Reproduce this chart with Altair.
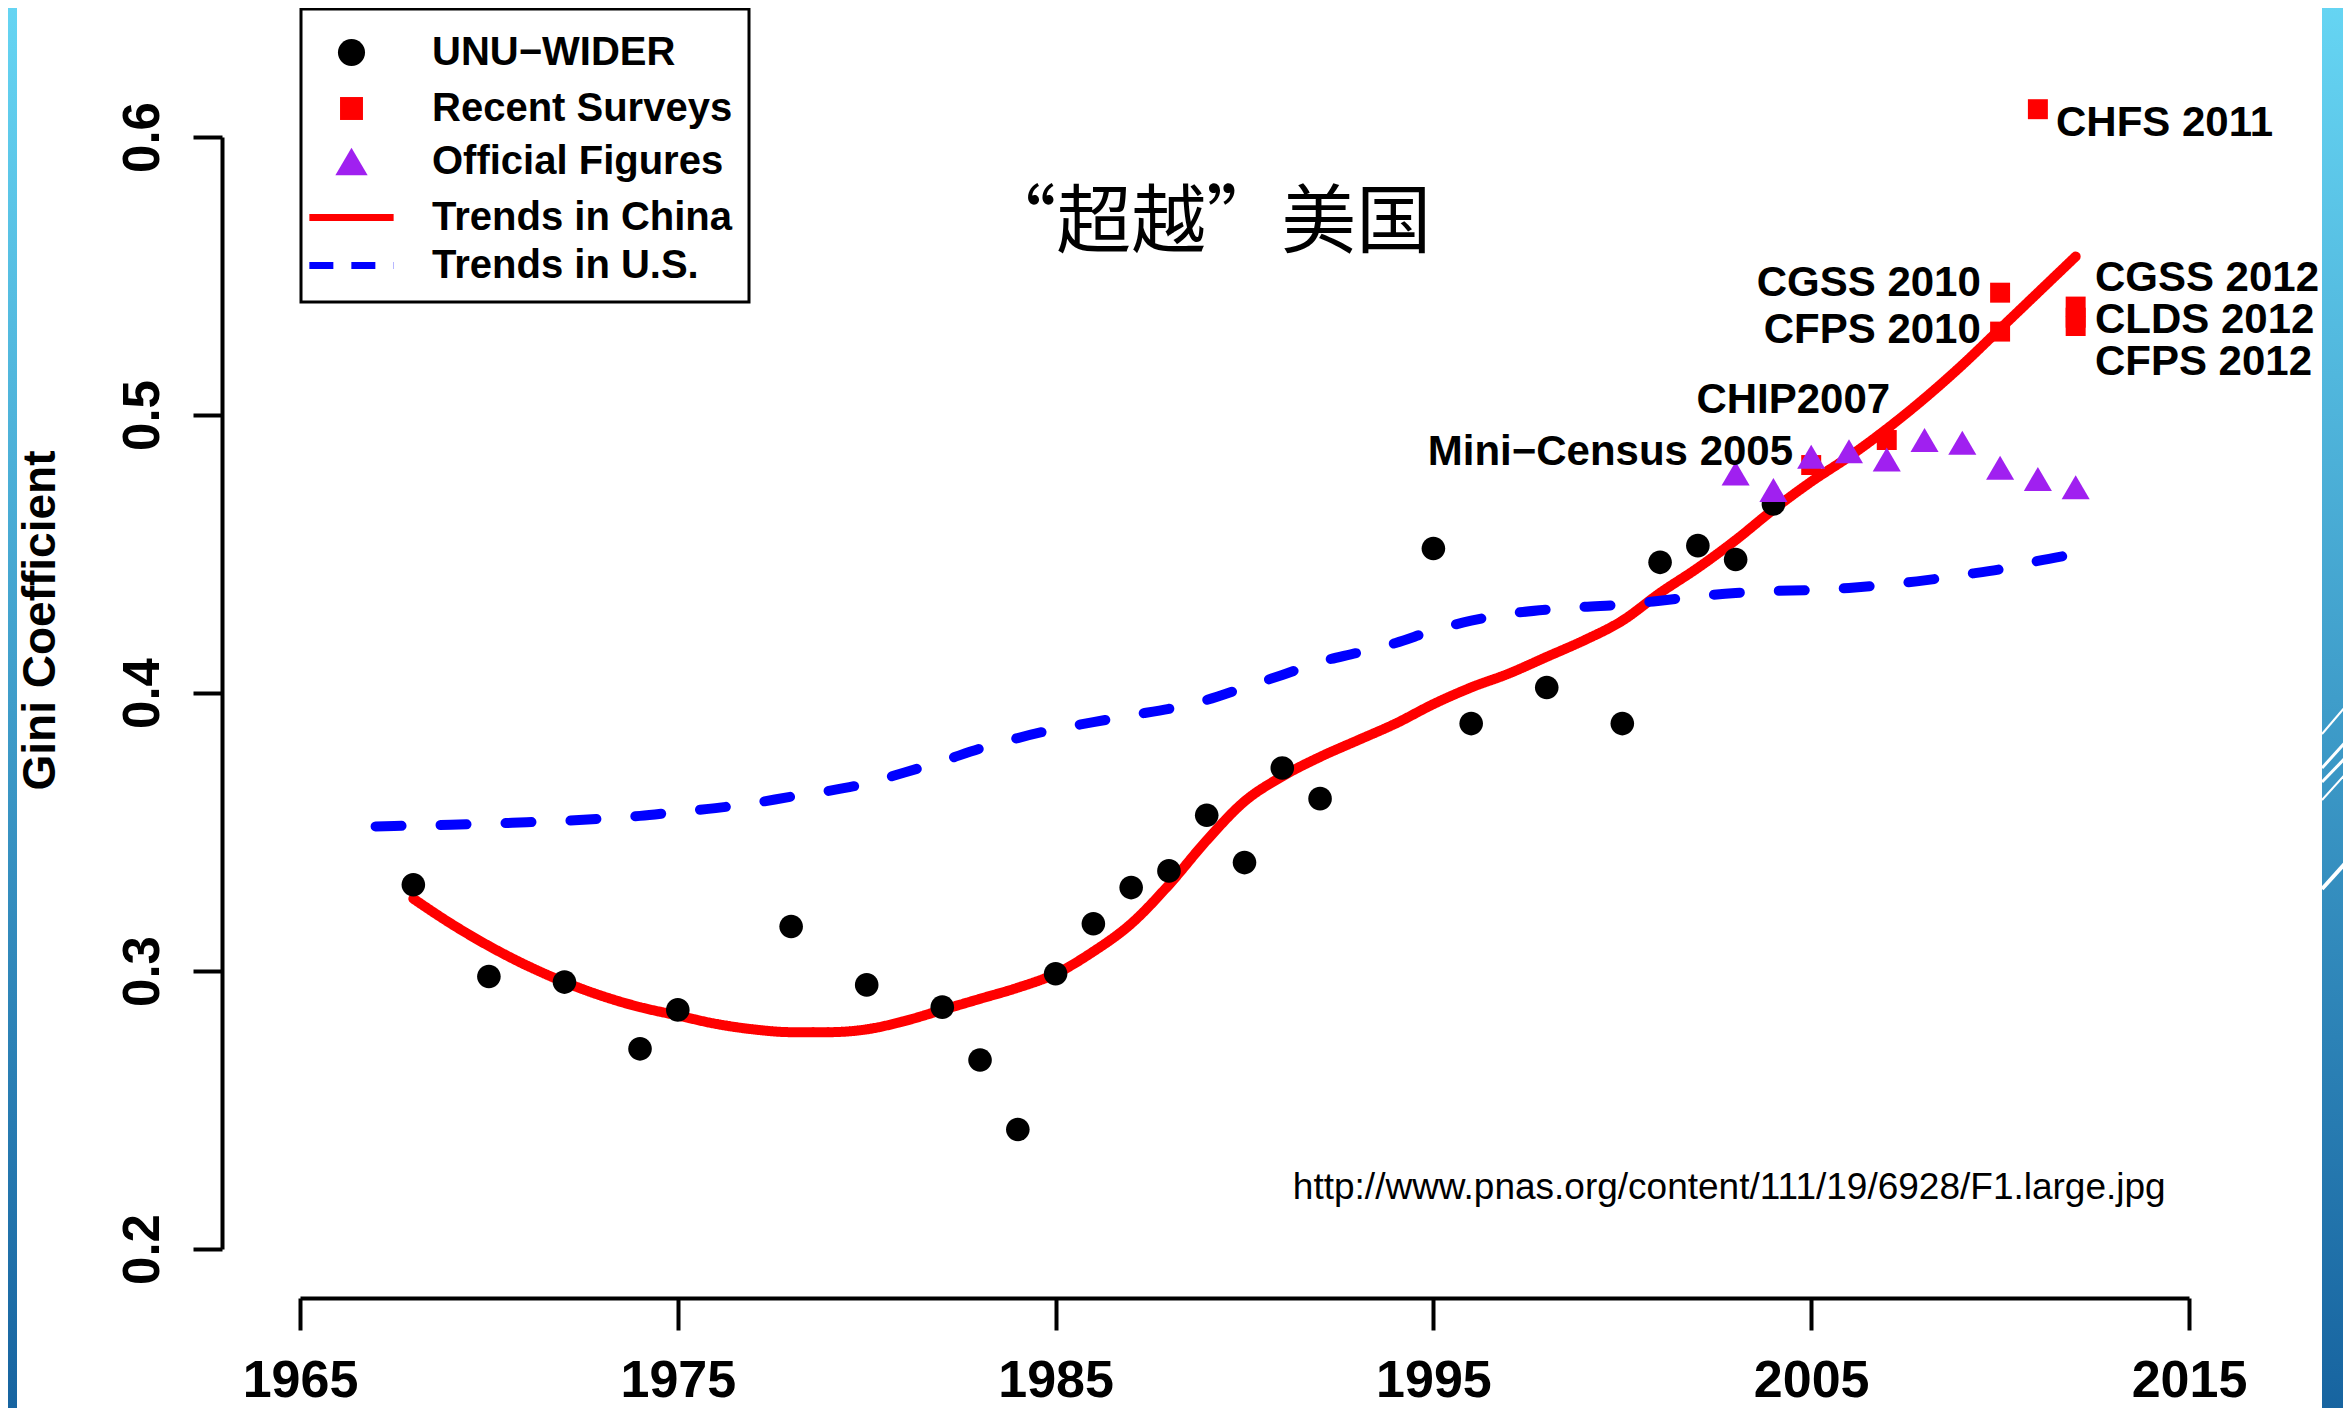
import altair as alt
import pandas as pd

# ---------------- data ----------------
# UNU-WIDER estimates (black dots)
unu_years = [1968, 1970, 1972, 1974, 1975, 1978, 1980, 1982, 1983, 1984, 1985, 1986, 1987,
             1988, 1989, 1990, 1991, 1992, 1995, 1996, 1998, 2000, 2001, 2002, 2003, 2004]
unu_gini = [0.331, 0.298, 0.296, 0.272, 0.286, 0.316, 0.295, 0.287, 0.268, 0.243, 0.299, 0.317, 0.330,
            0.336, 0.356, 0.339, 0.373, 0.362, 0.452, 0.389, 0.402, 0.389, 0.447, 0.453, 0.448, 0.468]

# Recent surveys (red squares)
survey_names = ["Mini−Census 2005", "CHIP2007", "CGSS 2010", "CFPS 2010", "CHFS 2011",
                "CGSS 2012", "CLDS 2012", "CFPS 2012"]
survey_years = [2005, 2007, 2010, 2010, 2011, 2012, 2012, 2012]
survey_gini = [0.482, 0.491, 0.544, 0.530, 0.610, 0.539, 0.535, 0.532]

# Official figures (purple triangles)
official_years = [2003, 2004, 2005, 2006, 2007, 2008, 2009, 2010, 2011, 2012]
official_gini = [0.479, 0.473, 0.485, 0.487, 0.484, 0.491, 0.490, 0.481, 0.477, 0.474]

# Trend in China (red line)
china_years = [1968, 1969, 1970, 1971, 1972, 1973, 1974, 1975, 1976, 1977, 1978, 1979, 1980,
               1981, 1982, 1983, 1984, 1985, 1986, 1987, 1988, 1989, 1990, 1991, 1992, 1993,
               1994, 1995, 1996, 1997, 1998, 1999, 2000, 2001, 2002, 2003, 2004, 2005, 2006,
               2007, 2008, 2009, 2010, 2011, 2012]
china_gini = [0.326, 0.317, 0.309, 0.302, 0.296, 0.291, 0.287, 0.284, 0.281, 0.279, 0.278, 0.278, 0.279,
              0.282, 0.286, 0.290, 0.294, 0.299, 0.307, 0.317, 0.331, 0.347, 0.361, 0.370, 0.377, 0.383,
              0.389, 0.396, 0.402, 0.407, 0.413, 0.419, 0.426, 0.436, 0.445, 0.455, 0.466, 0.476, 0.485,
              0.495, 0.506, 0.518, 0.531, 0.544, 0.557]

# Trend in U.S. (blue dashed line)
us_years = [1967, 1968, 1969, 1970, 1971, 1972, 1973, 1974, 1975, 1976, 1977, 1978, 1979, 1980,
            1981, 1982, 1983, 1984, 1985, 1986, 1987, 1988, 1989, 1990, 1991, 1992, 1993, 1994,
            1995, 1996, 1997, 1998, 1999, 2000, 2001, 2002, 2003, 2004, 2005, 2006, 2007, 2008,
            2009, 2010, 2011, 2012]
us_gini = [0.352, 0.3523, 0.3526, 0.353, 0.3535, 0.354, 0.3548, 0.3558, 0.3572, 0.3586, 0.3604, 0.3627,
           0.3648, 0.3675, 0.3714, 0.3755, 0.380, 0.3838, 0.387, 0.3895, 0.392, 0.3943, 0.3975, 0.402,
           0.4065, 0.4112, 0.4145, 0.418, 0.4225, 0.426, 0.4285, 0.430, 0.431, 0.4318, 0.4332, 0.4348,
           0.436, 0.4367, 0.437, 0.4378, 0.439, 0.4405, 0.4425, 0.4445, 0.4475, 0.450]

series_names = ["UNU−WIDER", "Recent Surveys", "Official Figures", "Trends in China", "Trends in U.S."]
x_ticks = [1965, 1975, 1985, 1995, 2005, 2015]
y_ticks = [0.2, 0.3, 0.4, 0.5, 0.6]

# survey annotations (placed in data coordinates, like R's text())
label_text = ["CHFS 2011", "CGSS 2012", "CLDS 2012", "CFPS 2012",
              "CGSS 2010", "CFPS 2010", "CHIP2007", "Mini−Census 2005"]
label_year = [2011.48, 2012.51, 2012.51, 2012.51, 2009.49, 2009.49, 2007.09, 2004.52]
label_gini = [0.6050, 0.5492, 0.5342, 0.5192, 0.5474, 0.5306, 0.5054, 0.4868]
label_side = ["left", "left", "left", "left", "right", "right", "right", "right"]

title_text = ["“超越”美国"]
title_year = [1983.03]
title_gini = [0.5605]

source_text = ["http://www.pnas.org/content/111/19/6928/F1.large.jpg"]
source_year = [1991.28]
source_gini = [0.218]

# ---------------- tables ----------------
points_df = pd.DataFrame({
    "year": unu_years + survey_years + official_years,
    "gini": unu_gini + survey_gini + official_gini,
    "series": [series_names[0]] * len(unu_years) + [series_names[1]] * len(survey_years)
              + [series_names[2]] * len(official_years),
})
china_df = pd.DataFrame({"year": china_years, "gini": china_gini,
                         "series": [series_names[3]] * len(china_years)})
us_df = pd.DataFrame({"year": us_years, "gini": us_gini,
                      "series": [series_names[4]] * len(us_years)})
labels_df = pd.DataFrame({"year": label_year, "gini": label_gini, "text": label_text, "side": label_side})
title_df = pd.DataFrame({"year": title_year, "gini": title_gini, "text": title_text})
source_df = pd.DataFrame({"year": source_year, "gini": source_gini, "text": source_text})

# ---------------- styling ----------------
FONT = "Liberation Sans"
W, H = 1889, 1112

x_axis = alt.Axis(values=x_ticks, format="d", title=None, grid=False, offset=49,
                  domainColor="black", domainWidth=4, tickColor="black", tickWidth=4, tickSize=32,
                  labelFont=FONT, labelFontSize=52, labelFontWeight="bold", labelColor="black",
                  labelPadding=25, labelFlush=False, labelOverlap=False, labelBound=False)
y_axis = alt.Axis(values=y_ticks, format=".1f", grid=False, offset=78,
                  domainColor="black", domainWidth=4, tickColor="black", tickWidth=4, tickSize=29,
                  labelFont=FONT, labelFontSize=51, labelFontWeight="bold", labelColor="black",
                  labelAngle=270, labelAlign="center", labelBaseline="alphabetic", labelPadding=35,
                  labelFlush=False, labelOverlap=False, labelBound=False,
                  title="Gini Coefficient", titleFont=FONT, titleFontSize=46, titleFontWeight="bold",
                  titleColor="black", titleAngle=270, titleAlign="center", titleBaseline="middle",
                  titleX=-182, titleY=483)

x_enc = alt.X("year:Q", scale=alt.Scale(domain=[1965, 2015], nice=False, zero=False), axis=x_axis)
y_enc = alt.Y("gini:Q", scale=alt.Scale(domain=[0.2, 0.6], nice=False, zero=False), axis=y_axis)

circle_path = "M0.567,0A0.567,0.567,0,1,1,-0.567,0A0.567,0.567,0,1,1,0.567,0Z"
square_path = "M-0.48,-0.48L0.48,-0.48L0.48,0.48L-0.48,0.48Z"
tri_path = "M0,-0.577L0.675,0.577L-0.675,0.577Z"
line_path = "M-1.763,0L1.763,0"

leg = alt.Legend(title=None, orient="none", legendX=1, legendY=-128, padding=16, rowPadding=-4,
                 strokeColor="black", fillColor="white", cornerRadius=0,
                 symbolSize=2285, symbolStrokeWidth=7, symbolFillColor="black", symbolStrokeColor="black",
                 symbolOffset=7, labelOffset=53, labelLimit=1000,
                 labelFont=FONT, labelFontSize=40, labelFontWeight="bold", labelColor="black")

fill_enc = alt.Fill("series:N", legend=leg, scale=alt.Scale(
    domain=series_names, range=["#000000", "#ff0000", "#a020f0", "transparent", "transparent"]))
stroke_enc = alt.Stroke("series:N", legend=leg, scale=alt.Scale(
    domain=series_names, range=["transparent", "transparent", "transparent", "#ff0000", "#0000ff"]))
shape_enc = alt.Shape("series:N", legend=leg, scale=alt.Scale(
    domain=series_names, range=[circle_path, square_path, tri_path, line_path, line_path]))
dash_enc = alt.StrokeDash("series:N", legend=leg, scale=alt.Scale(
    domain=series_names, range=[[1, 0], [1, 0], [1, 0], [1, 0], [24, 18]]))

# ---------------- slide decoration (blue side bands) ----------------
strip_fill = alt.LinearGradient(gradient="linear", x1=0, x2=0, y1=0, y2=1,
                                stops=[alt.GradientStop(offset=0, color="#66d5f3"),
                                       alt.GradientStop(offset=1, color="#1764a0")])
one_row = alt.Data(values=[{"k": 1}])

left_strip = alt.Chart(one_row).mark_rect(fill=strip_fill).encode(
    x=alt.value(-292), x2=alt.value(-283), y=alt.value(-137), y2=alt.value(1275))
right_strip = alt.Chart(one_row).mark_rect(fill=strip_fill).encode(
    x=alt.value(2022), x2=alt.value(2060), y=alt.value(-137), y2=alt.value(1275))
deco_lines = [
    alt.Chart(one_row).mark_rule(color="white", strokeWidth=sw).encode(
        x=alt.value(2022), x2=alt.value(2051), y=alt.value(ya), y2=alt.value(yb))
    for (ya, yb, sw) in [(597, 563, 2), (631, 599, 3), (645, 615, 3), (663, 631, 2), (752, 720, 4)]
]

# ---------------- chart layers ----------------
china_line = alt.Chart(china_df).mark_line(strokeWidth=10, strokeCap="round", interpolate="monotone").encode(
    x=x_enc, y=y_enc, stroke=stroke_enc, strokeDash=dash_enc)
us_line = alt.Chart(us_df).mark_line(strokeWidth=10, strokeCap="round", strokeDash=[26, 39],
                                     interpolate="monotone").encode(
    x=x_enc, y=y_enc, stroke=stroke_enc)

points = alt.Chart(points_df).mark_point(filled=True, size=1731, opacity=1).encode(
    x=x_enc, y=y_enc, fill=fill_enc, shape=shape_enc, stroke=stroke_enc)

labels_left = alt.Chart(labels_df).transform_filter(alt.datum.side == "left").mark_text(
    font=FONT, fontSize=42, fontWeight="bold", align="left", baseline="middle", color="black").encode(
    x=x_enc, y=y_enc, text="text:N")
labels_right = alt.Chart(labels_df).transform_filter(alt.datum.side == "right").mark_text(
    font=FONT, fontSize=42, fontWeight="bold", align="right", baseline="middle", color="black").encode(
    x=x_enc, y=y_enc, text="text:N")

title_mark = alt.Chart(title_df).mark_text(
    font="Noto Sans CJK TC", fontSize=75, align="left", baseline="alphabetic",
    color="black").encode(x=x_enc, y=y_enc, text="text:N")
source_mark = alt.Chart(source_df).mark_text(
    font=FONT, fontSize=37, align="left", baseline="alphabetic", color="black").encode(
    x=x_enc, y=y_enc, text="text:N")

chart = alt.layer(
    left_strip, right_strip, *deco_lines, china_line, us_line, points,
    labels_left, labels_right, title_mark, source_mark
).properties(
    width=W, height=H,
    autosize=alt.AutoSizeParams(type="none"),
    padding={"left": 292, "top": 129, "right": 154, "bottom": 159},
    background="white",
).configure_view(stroke="transparent").configure_legend(strokeWidth=3)

chart.save("out.html", embed_options={"renderer": "svg", "actions": False})
